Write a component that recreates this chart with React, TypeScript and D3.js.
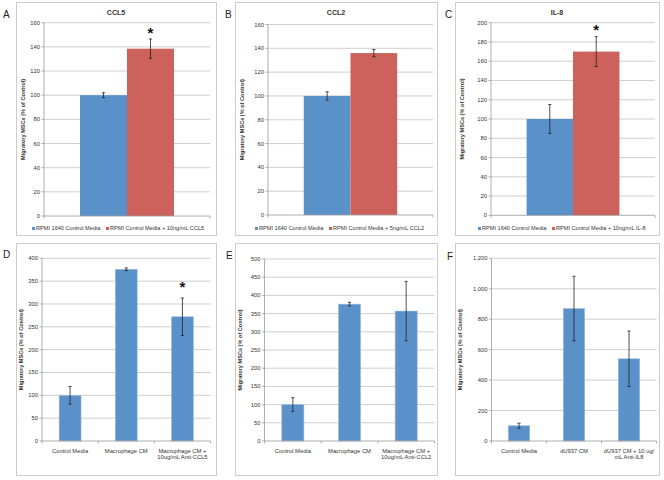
import React from "react";
import * as d3 from "d3";

// ---------- DATA ----------
const topTitles = ["CCL5", "CCL2", "IL-8"];
const topLetters = ["A", "B", "C"];
const topMax = [160, 160, 200];
const topStep = [20, 20, 20];
const controlSeries = ["RPMI 1640 Control Media", "RPMI 1640 Control Media", "RPMI 1640 Control Media"];
const treatedSeries = [
  "RPMI Control Media + 10ng/mL CCL5",
  "RPMI Control Media + 5ng/mL CCL2",
  "RPMI Control Media + 10ng/mL IL-8",
];
const controlValues = [100, 100, 100];
const controlErrors = [2, 3.5, 15];
const treatedValues = [138.5, 136, 170];
const treatedErrors = [8, 3, 15.5];
const topStars = [true, false, true];

const bottomLetters = ["D", "E", "F"];
const bottomMax = [400, 500, 1200];
const bottomStep = [50, 50, 200];
const bottomCategories = [
  ["Control Media", "Macrophage CM", "Macrophage CM +\n10ug/mL Anti-CCL5"],
  ["Control Media", "Macrophage CM", "Macrophage CM +\n10ug/mL Anti-CCL2"],
  ["Control Media", "dU937 CM", "dU937 CM + 10 ug/\nmL Anti-IL8"],
];
const bottomValues = [
  [100, 376, 272],
  [100, 376, 357],
  [100, 870, 540],
];
const bottomErrors = [
  [19.5, 3, 41],
  [19, 5, 81.5],
  [17, 212, 182],
];
const bottomStarIndex = [2, -1, -1];

const yLabel = "Migratory MSCs (% of Control)";

// ---------- LAYOUT ----------
const topLayout = [
  { fx: 16, fw: 200, left: 44, right: 210, top: 22.7, bottom: 216, lx: 3, ly: 18, legX: 32 },
  { fx: 235, fw: 202, left: 268, right: 433, top: 24.5, bottom: 215, lx: 225, ly: 17.5, legX: 255 },
  { fx: 455, fw: 204, left: 491, right: 655, top: 22.7, bottom: 215.3, lx: 445, ly: 18, legX: 478 },
];
const bottomLayout = [
  { fx: 16, fw: 200, left: 42, right: 210.5, top: 258.3, bottom: 441, lx: 3, ly: 258 },
  { fx: 235, fw: 202, left: 264.5, right: 434.5, top: 259, bottom: 441, lx: 226, ly: 258.5 },
  { fx: 455, fw: 204, left: 491.5, right: 656.5, top: 258.3, bottom: 441, lx: 447, ly: 259.5 },
];

const BLUE = "#5b91c9";
const RED = "#cd625c";
const GRID = "#cfcfcf";
const AXIS = "#9a9a9a";
const FRAME = "#cccccc";
const TXT = "#333333";
const FONT = "Liberation Sans, Arial, sans-serif";

function YAxis({ y, left, right, max, step, fmt }: any) {
  const ticks = d3.range(0, max + step / 2, step);
  return (
    <g>
      {ticks.map((t: number) => (
        <g key={t}>
          {t > 0 && <line x1={left} x2={right} y1={y(t)} y2={y(t)} stroke={GRID} strokeWidth={1} />}
          <line x1={left - 2.5} x2={left} y1={y(t)} y2={y(t)} stroke={AXIS} strokeWidth={0.8} />
          <text x={left - 4} y={y(t) + 2} fontSize={5.8} textAnchor="end" fill={TXT} fontFamily={FONT}>
            {fmt(t)}
          </text>
        </g>
      ))}
      <line x1={left} x2={left} y1={y(max)} y2={y(0)} stroke={AXIS} strokeWidth={0.8} />
    </g>
  );
}

function ErrorBar({ cx, y, v, e }: any) {
  const c = "#222";
  return (
    <g stroke={c} strokeWidth={0.8}>
      <line x1={cx} x2={cx} y1={y(v + e)} y2={y(v - e)} />
      <line x1={cx - 1.6} x2={cx + 1.6} y1={y(v + e)} y2={y(v + e)} />
      <line x1={cx - 1.6} x2={cx + 1.6} y1={y(v - e)} y2={y(v - e)} />
    </g>
  );
}

function TopPanel({ i }: { i: number }) {
  const L = topLayout[i];
  const y = d3.scaleLinear().domain([0, topMax[i]]).range([L.bottom, L.top]);
  const xCat = d3.scaleBand().domain(["g"]).range([L.left, L.right]).paddingInner(0).paddingOuter(0.383);
  const xSer = d3.scaleBand().domain(["c", "t"]).range([0, xCat.bandwidth()]).padding(0);
  const vals = [controlValues[i], treatedValues[i]];
  const errs = [controlErrors[i], treatedErrors[i]];
  const cols = [BLUE, RED];
  const keys = ["c", "t"];
  const midX = L.fx + L.fw / 2;
  const fy = 2;
  const fh = 233;
  return (
    <g>
      <rect x={L.fx + 0.5} y={fy + 0.5} width={L.fw} height={fh} fill="#fff" stroke={FRAME} strokeWidth={1} />
      <text x={L.lx} y={L.ly} fontSize={10} fontFamily={FONT} fill="#222">{topLetters[i]}</text>
      <text x={midX} y={15} fontSize={7} fontWeight="bold" textAnchor="middle" fontFamily={FONT} fill={TXT}>
        {topTitles[i]}
      </text>
      <YAxis y={y} left={L.left} right={L.right} max={topMax[i]} step={topStep[i]} fmt={(t: number) => String(t)} />
      {vals.map((v, k) => {
        const x0 = (xCat("g") as number) + (xSer(keys[k]) as number);
        return (
          <rect key={k} x={x0} y={y(v)} width={xSer.bandwidth()} height={y(0) - y(v)} fill={cols[k]} />
        );
      })}
      {vals.map((v, k) => {
        const cx = (xCat("g") as number) + (xSer(keys[k]) as number) + xSer.bandwidth() / 2;
        return <ErrorBar key={k} cx={cx} y={y} v={v} e={errs[k]} />;
      })}
      {topStars[i] && (
        <text
          x={(xCat("g") as number) + (xSer("t") as number) + xSer.bandwidth() / 2}
          y={y(treatedValues[i] + treatedErrors[i]) - 1.5}
          fontSize={15}
          fontWeight="bold"
          textAnchor="middle"
          fontFamily={FONT}
          fill="#111"
        >
          *
        </text>
      )}
      <line x1={L.left} x2={L.right} y1={y(0)} y2={y(0)} stroke={AXIS} strokeWidth={0.8} />
      <line x1={L.right} x2={L.right} y1={y(0)} y2={y(0) + 2.5} stroke={AXIS} strokeWidth={0.8} />
      <line x1={L.left} x2={L.left} y1={y(0)} y2={y(0) + 2.5} stroke={AXIS} strokeWidth={0.8} />
      <text
        transform={`translate(${L.fx + 8.5},${(L.top + L.bottom) / 2}) rotate(-90)`}
        fontSize={5.6}
        fontWeight="bold"
        textAnchor="middle"
        fontFamily={FONT}
        fill={TXT}
      >
        {yLabel}
      </text>
      <g fontFamily={FONT} fontSize={5.6} fill={TXT}>
        <rect x={L.legX} y={227} width={3} height={3} fill={BLUE} />
        <text x={L.legX + 4} y={230}>{controlSeries[i]}</text>
        <rect x={L.legX + 74} y={227} width={3} height={3} fill={RED} />
        <text x={L.legX + 78} y={230}>{treatedSeries[i]}</text>
      </g>
    </g>
  );
}

function BottomPanel({ i }: { i: number }) {
  const L = bottomLayout[i];
  const y = d3.scaleLinear().domain([0, bottomMax[i]]).range([L.bottom, L.top]);
  const cats = bottomCategories[i];
  const x = d3.scaleBand().domain(cats).range([L.left, L.right]).paddingInner(0.61).paddingOuter(0.305);
  const fmt = d3.format(",");
  const fy = 243;
  const fh = 232;
  const step = x.step();
  return (
    <g>
      <rect x={L.fx + 0.5} y={fy + 0.5} width={L.fw} height={fh} fill="#fff" stroke={FRAME} strokeWidth={1} />
      <text x={L.lx} y={L.ly} fontSize={10} fontFamily={FONT} fill="#222">{bottomLetters[i]}</text>
      <YAxis y={y} left={L.left} right={L.right} max={bottomMax[i]} step={bottomStep[i]} fmt={(t: number) => fmt(t)} />
      {cats.map((c, k) => (
        <rect
          key={c}
          x={x(c)}
          y={y(bottomValues[i][k])}
          width={x.bandwidth()}
          height={y(0) - y(bottomValues[i][k])}
          fill={BLUE}
          stroke="#9dbde0"
          strokeWidth={0.6}
        />
      ))}
      {cats.map((c, k) => (
        <ErrorBar
          key={c}
          cx={(x(c) as number) + x.bandwidth() / 2}
          y={y}
          v={bottomValues[i][k]}
          e={bottomErrors[i][k]}
        />
      ))}
      {bottomStarIndex[i] >= 0 && (
        <text
          x={(x(cats[bottomStarIndex[i]]) as number) + x.bandwidth() / 2}
          y={y(bottomValues[i][bottomStarIndex[i]] + bottomErrors[i][bottomStarIndex[i]]) - 6}
          fontSize={15}
          fontWeight="bold"
          textAnchor="middle"
          fontFamily={FONT}
          fill="#111"
        >
          *
        </text>
      )}
      <line x1={L.left} x2={L.right} y1={y(0)} y2={y(0)} stroke={AXIS} strokeWidth={0.8} />
      {d3.range(0, cats.length + 1).map((k) => (
        <line
          key={k}
          x1={L.left + k * step}
          x2={L.left + k * step}
          y1={y(0)}
          y2={y(0) + 2.5}
          stroke={AXIS}
          strokeWidth={0.8}
        />
      ))}
      {cats.map((c) => (
        <text
          key={c}
          x={(x(c) as number) + x.bandwidth() / 2}
          y={452.5}
          fontSize={5.8}
          textAnchor="middle"
          fontFamily={FONT}
          fill={TXT}
        >
          {c.split("\n").map((line, j) => (
            <tspan key={j} x={(x(c) as number) + x.bandwidth() / 2} dy={j === 0 ? 0 : 6.2}>
              {line}
            </tspan>
          ))}
        </text>
      ))}
      <text
        transform={`translate(${L.fx + 6.5},${(L.top + L.bottom) / 2}) rotate(-90)`}
        fontSize={5.6}
        fontWeight="bold"
        textAnchor="middle"
        fontFamily={FONT}
        fill={TXT}
      >
        {yLabel}
      </text>
    </g>
  );
}

export default function App() {
  return (
    <svg
      width={664}
      height={480}
      style={{ position: "absolute", left: 0, top: 0, background: "#fff" }}
    >
      <rect width={664} height={480} fill="#fff" />
      {[0, 1, 2].map((i) => (
        <TopPanel key={"t" + i} i={i} />
      ))}
      {[0, 1, 2].map((i) => (
        <BottomPanel key={"b" + i} i={i} />
      ))}
    </svg>
  );
}
